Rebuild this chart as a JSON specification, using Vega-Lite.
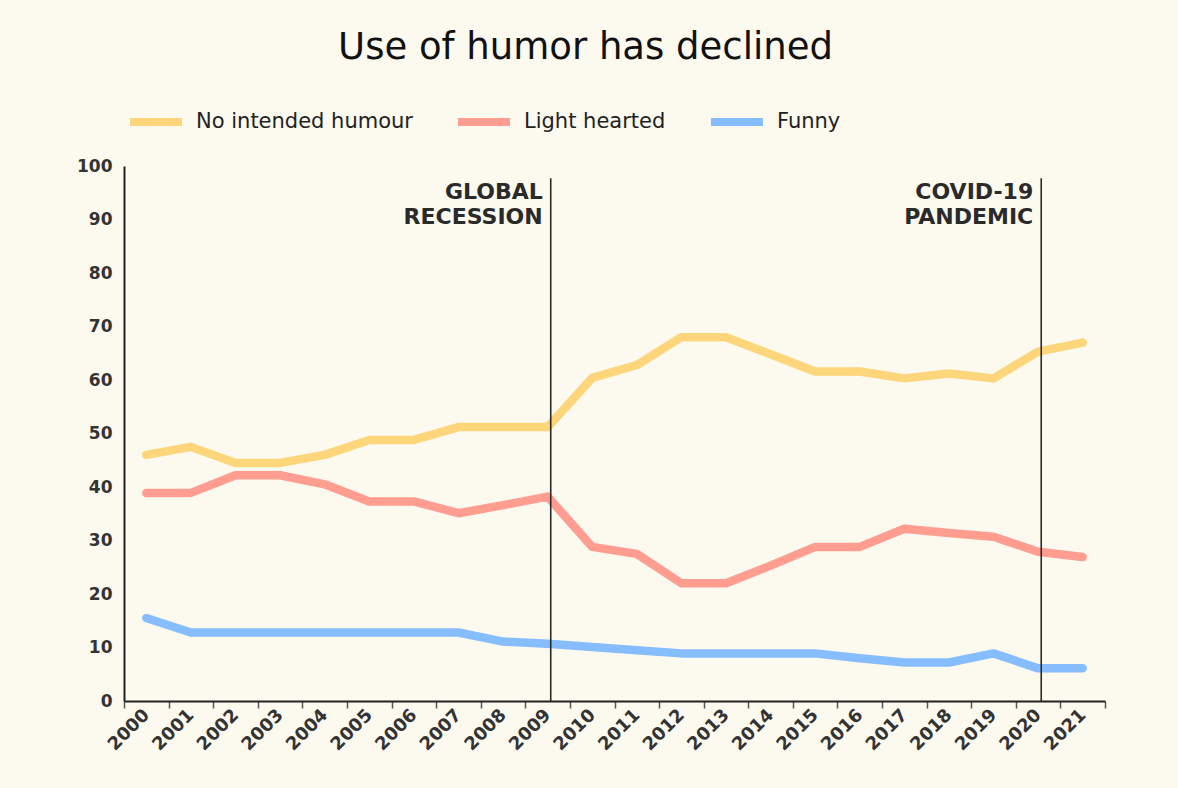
{
  "$schema": "https://vega.github.io/schema/vega-lite/v6.json",
  "autosize": {"type": "none"},
  "padding": {"left": 124, "top": 166, "right": 73, "bottom": 87},
  "width": 981,
  "height": 535,
  "background": "#FCF9EF",
  "title": {"text": "Use of humor has declined", "font": "DejaVu Sans", "fontSize": 37, "fontWeight": "normal", "color": "#111111", "anchor": "middle", "frame": "group", "dx": -29, "offset": 25},
  "datasets": {
    "series": [
      {"year": 2000, "series": "No intended humour", "value": 46},
      {"year": 2001, "series": "No intended humour", "value": 47.5},
      {"year": 2002, "series": "No intended humour", "value": 44.5},
      {"year": 2003, "series": "No intended humour", "value": 44.5},
      {"year": 2004, "series": "No intended humour", "value": 46},
      {"year": 2005, "series": "No intended humour", "value": 48.8},
      {"year": 2006, "series": "No intended humour", "value": 48.8},
      {"year": 2007, "series": "No intended humour", "value": 51.2},
      {"year": 2008, "series": "No intended humour", "value": 51.2},
      {"year": 2009, "series": "No intended humour", "value": 51.2},
      {"year": 2010, "series": "No intended humour", "value": 60.4},
      {"year": 2011, "series": "No intended humour", "value": 62.8},
      {"year": 2012, "series": "No intended humour", "value": 68},
      {"year": 2013, "series": "No intended humour", "value": 68},
      {"year": 2014, "series": "No intended humour", "value": 64.8},
      {"year": 2015, "series": "No intended humour", "value": 61.6},
      {"year": 2016, "series": "No intended humour", "value": 61.6},
      {"year": 2017, "series": "No intended humour", "value": 60.3},
      {"year": 2018, "series": "No intended humour", "value": 61.2},
      {"year": 2019, "series": "No intended humour", "value": 60.3},
      {"year": 2020, "series": "No intended humour", "value": 65.3},
      {"year": 2021, "series": "No intended humour", "value": 67.0},
      {"year": 2000, "series": "Light hearted", "value": 38.9},
      {"year": 2001, "series": "Light hearted", "value": 38.9},
      {"year": 2002, "series": "Light hearted", "value": 42.2},
      {"year": 2003, "series": "Light hearted", "value": 42.2},
      {"year": 2004, "series": "Light hearted", "value": 40.5},
      {"year": 2005, "series": "Light hearted", "value": 37.3},
      {"year": 2006, "series": "Light hearted", "value": 37.3},
      {"year": 2007, "series": "Light hearted", "value": 35.1},
      {"year": 2008, "series": "Light hearted", "value": 36.6},
      {"year": 2009, "series": "Light hearted", "value": 38.2},
      {"year": 2010, "series": "Light hearted", "value": 28.8},
      {"year": 2011, "series": "Light hearted", "value": 27.5},
      {"year": 2012, "series": "Light hearted", "value": 22},
      {"year": 2013, "series": "Light hearted", "value": 22},
      {"year": 2014, "series": "Light hearted", "value": 25.3},
      {"year": 2015, "series": "Light hearted", "value": 28.8},
      {"year": 2016, "series": "Light hearted", "value": 28.8},
      {"year": 2017, "series": "Light hearted", "value": 32.2},
      {"year": 2018, "series": "Light hearted", "value": 31.4},
      {"year": 2019, "series": "Light hearted", "value": 30.7},
      {"year": 2020, "series": "Light hearted", "value": 27.9},
      {"year": 2021, "series": "Light hearted", "value": 26.9},
      {"year": 2000, "series": "Funny", "value": 15.5},
      {"year": 2001, "series": "Funny", "value": 12.8},
      {"year": 2002, "series": "Funny", "value": 12.8},
      {"year": 2003, "series": "Funny", "value": 12.8},
      {"year": 2004, "series": "Funny", "value": 12.8},
      {"year": 2005, "series": "Funny", "value": 12.8},
      {"year": 2006, "series": "Funny", "value": 12.8},
      {"year": 2007, "series": "Funny", "value": 12.8},
      {"year": 2008, "series": "Funny", "value": 11.1},
      {"year": 2009, "series": "Funny", "value": 10.7},
      {"year": 2010, "series": "Funny", "value": 10.1},
      {"year": 2011, "series": "Funny", "value": 9.5},
      {"year": 2012, "series": "Funny", "value": 8.9},
      {"year": 2013, "series": "Funny", "value": 8.9},
      {"year": 2014, "series": "Funny", "value": 8.9},
      {"year": 2015, "series": "Funny", "value": 8.9},
      {"year": 2016, "series": "Funny", "value": 8.0},
      {"year": 2017, "series": "Funny", "value": 7.2},
      {"year": 2018, "series": "Funny", "value": 7.2},
      {"year": 2019, "series": "Funny", "value": 8.9},
      {"year": 2020, "series": "Funny", "value": 6.1},
      {"year": 2021, "series": "Funny", "value": 6.1}
    ],
    "events": [
      {"year": 2009, "top": 97.7, "bottom": 0, "labelY": 97.0, "label": ["GLOBAL", "RECESSION"]},
      {"year": 2020, "top": 97.7, "bottom": 0, "labelY": 97.0, "label": ["COVID-19", "PANDEMIC"]}
    ]
  },
  "encoding": {
    "x": {
      "field": "year", "type": "ordinal", "title": null,
      "scale": {"type": "band", "paddingInner": 0, "paddingOuter": 0, "domain": [2000,2001,2002,2003,2004,2005,2006,2007,2008,2009,2010,2011,2012,2013,2014,2015,2016,2017,2018,2019,2020,2021]},
      "axis": {"labelAngle": -45, "labelAlign": "right", "labelBaseline": "middle", "tickBand": "extent", "tickSize": 7, "tickColor": "#555555", "tickWidth": 1.5, "domainColor": "#222222", "domainWidth": 2, "labelFont": "DejaVu Sans", "labelFontSize": 18, "labelFontWeight": "bold", "labelColor": "#333333", "labelPadding": 4, "labelOverlap": false, "labelBound": false, "labelFlush": false}
    }
  },
  "layer": [
    {
      "data": {"name": "series"},
      "mark": {"type": "line", "strokeWidth": 8.5, "strokeCap": "round", "strokeJoin": "round"},
      "encoding": {
        "x": {"field": "year", "type": "ordinal", "bandPosition": 0.5},
        "y": {
          "field": "value", "type": "quantitative", "title": null,
          "scale": {"domain": [0, 100], "nice": false},
          "axis": {"values": [0,10,20,30,40,50,60,70,80,90,100], "ticks": false, "domainColor": "#222222", "domainWidth": 2, "labelFont": "DejaVu Sans", "labelFontSize": 17, "labelFontWeight": "bold", "labelColor": "#333333", "labelPadding": 12, "grid": false}
        },
        "color": {
          "field": "series", "type": "nominal", "title": null,
          "scale": {"domain": ["No intended humour", "Light hearted", "Funny"], "range": ["#FDD57B", "#FE9D90", "#86BDFE"]},
          "legend": {"orient": "none", "legendX": 2, "legendY": -74, "direction": "horizontal", "symbolType": "stroke", "symbolSize": 2704, "symbolStrokeWidth": 8, "labelFont": "DejaVu Sans", "labelFontSize": 21, "labelColor": "#222222", "labelOffset": 10, "labelLimit": 400, "columnPadding": 29}
        },
        "detail": {"field": "series"}
      }
    },
    {
      "data": {"name": "events"},
      "mark": {"type": "rule", "color": "#2a2a2a", "strokeWidth": 1.6},
      "encoding": {
        "x": {"field": "year", "type": "ordinal", "bandPosition": 0.57},
        "y": {"field": "top", "type": "quantitative"},
        "y2": {"field": "bottom"}
      }
    },
    {
      "data": {"name": "events"},
      "mark": {"type": "text", "align": "right", "baseline": "top", "dx": -8, "font": "DejaVu Sans", "fontSize": 22, "fontWeight": "bold", "color": "#2a2a2a", "lineHeight": 25},
      "encoding": {
        "x": {"field": "year", "type": "ordinal", "bandPosition": 0.57},
        "y": {"field": "labelY", "type": "quantitative"},
        "text": {"field": "label"}
      }
    }
  ],
  "config": {
    "view": {"stroke": null},
    "axis": {"grid": false}
  }
}
